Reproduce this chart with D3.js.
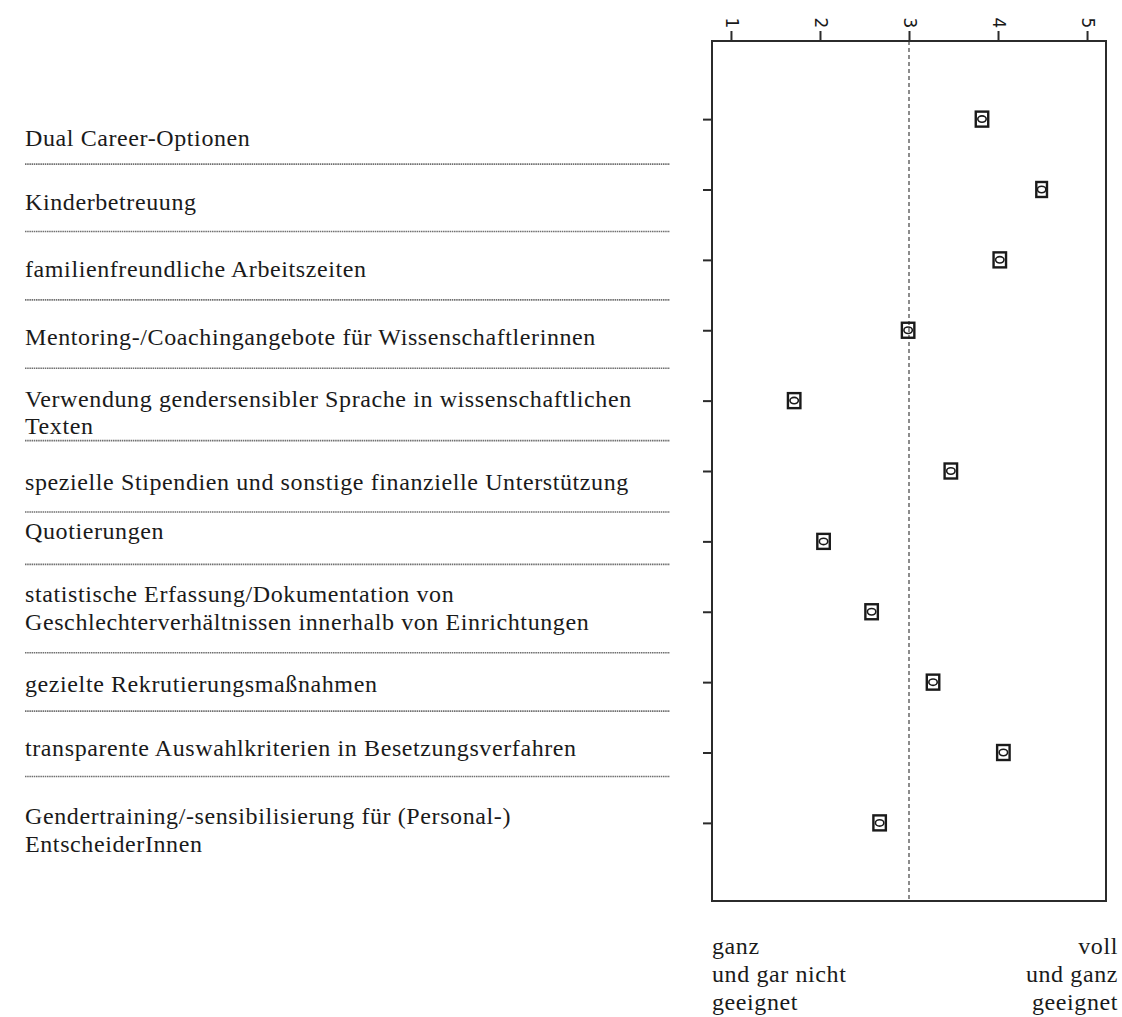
<!DOCTYPE html>
<html>
<head>
<meta charset="utf-8">
<script src="https://cdn.jsdelivr.net/npm/d3@7"></script>
<style>
  body { margin: 0; background: #fff; }
  svg text { font-family: "Liberation Serif", "DejaVu Serif", serif; fill: #1a1a1a; }
</style>
</head>
<body>
<svg id="chart" width="1122" height="1017"></svg>
<script>
// items, top to bottom
var categories = [
  ['Dual Career-Optionen'],
  ['Kinderbetreuung'],
  ['familienfreundliche Arbeitszeiten'],
  ['Mentoring-/Coachingangebote für Wissenschaftlerinnen'],
  ['Verwendung gendersensibler Sprache in wissenschaftlichen', 'Texten'],
  ['spezielle Stipendien und sonstige finanzielle Unterstützung'],
  ['Quotierungen'],
  ['statistische Erfassung/Dokumentation von', 'Geschlechterverhältnissen innerhalb von Einrichtungen'],
  ['gezielte Rekrutierungsmaßnahmen'],
  ['transparente Auswahlkriterien in Besetzungsverfahren'],
  ['Gendertraining/-sensibilisierung für (Personal-)', 'EntscheiderInnen']
];
// mean rating (1-5) and half width of the interval
var means = [3.82, 4.49, 4.02, 2.99, 1.71, 3.47, 2.04, 2.58, 3.27, 4.06, 2.67];
var ciHalf = [0.07, 0.06, 0.07, 0.07, 0.07, 0.07, 0.07, 0.07, 0.07, 0.07, 0.07];
var xTicks = [1, 2, 3, 4, 5];
var refValue = 3;
var leftEnd = ['ganz', 'und gar nicht', 'geeignet'];
var rightEnd = ['voll', 'und ganz', 'geeignet'];

// layout tweaks for the label table on the left (pixels relative to row)
var labelNudge = [27, 21, 17, 15, 20, 19, -2, 4, 10, 3, 15];
var sepOffset = [45, 42, 40, 38, 40, 41, 23, 41, 29, 24];

var svg = d3.select('#chart');
var box = {left: 712, right: 1106, top: 41, bottom: 901};
var fontSize = 24;
var tracking = 0.6;

var x = d3.scaleLinear().domain([0.787, 5.213]).range([box.left, box.right]);
var y = d3.scalePoint().domain(d3.range(categories.length))
  .range([box.top, box.bottom]).padding(1.11);

// reference line at 3
svg.append('line')
  .attr('x1', x(refValue)).attr('x2', x(refValue))
  .attr('y1', box.top).attr('y2', box.bottom)
  .attr('stroke', '#8c8c8c').attr('stroke-width', 2)
  .attr('stroke-dasharray', '4,3');

// frame
svg.append('rect')
  .attr('x', box.left).attr('y', box.top)
  .attr('width', box.right - box.left).attr('height', box.bottom - box.top)
  .attr('fill', 'none').attr('stroke', '#2b2b2b').attr('stroke-width', 2);

// top axis, labels turned on their side
var xAxis = svg.append('g')
  .attr('transform', 'translate(0,' + box.top + ')')
  .call(d3.axisTop(x).tickValues(xTicks).tickSize(10).tickSizeOuter(0).tickFormat(d3.format('d')));
xAxis.select('.domain').remove();
xAxis.selectAll('.tick line').attr('stroke', '#2b2b2b').attr('stroke-width', 2);
xAxis.selectAll('.tick text')
  .attr('y', 0).attr('dy', '0.35em')
  .attr('transform', 'translate(0,-18) rotate(90)')
  .attr('text-anchor', 'middle')
  .attr('fill', '#222')
  .style('font-family', '"DejaVu Sans", sans-serif')
  .style('font-size', '17px');

// left ticks of the rows
var yAxis = svg.append('g')
  .attr('transform', 'translate(' + box.left + ',0)')
  .call(d3.axisLeft(y).tickSize(9).tickFormat(''));
yAxis.select('.domain').remove();
yAxis.selectAll('.tick line').attr('stroke', '#2b2b2b').attr('stroke-width', 2);

// markers: bracket box with an ellipse at the mean
var marks = svg.append('g').selectAll('g')
  .data(means).join('g')
  .attr('transform', function(d, i) { return 'translate(0,' + y(i) + ')'; });
marks.append('rect')
  .attr('x', function(d, i) { return x(d - ciHalf[i]); })
  .attr('width', function(d, i) { return x(d + ciHalf[i]) - x(d - ciHalf[i]); })
  .attr('y', -7.5).attr('height', 15)
  .attr('fill', 'none').attr('stroke', '#1a1a1a').attr('stroke-width', 2.4);
marks.append('ellipse')
  .attr('cx', function(d) { return x(d); })
  .attr('rx', 4.2).attr('ry', 3.2)
  .attr('fill', 'none').attr('stroke', '#1a1a1a').attr('stroke-width', 1.6);

// label table
var lineH = 27.5;
var labels = svg.append('g').selectAll('text')
  .data(categories).join('text')
  .attr('x', 25)
  .attr('y', function(d, i) { return y(i) + labelNudge[i] - (d.length - 1) * lineH / 2; })
  .attr('dy', '0.35em')
  .style('font-size', fontSize + 'px')
  .style('letter-spacing', tracking + 'px');
labels.selectAll('tspan')
  .data(function(d) { return d; }).join('tspan')
  .attr('x', 25)
  .attr('dy', function(d, j) { return j ? lineH : 0; })
  .text(function(d) { return d; });

svg.append('g').selectAll('line')
  .data(sepOffset).join('line')
  .attr('x1', 25).attr('x2', 670)
  .attr('y1', function(d, i) { return y(i) + d; })
  .attr('y2', function(d, i) { return y(i) + d; })
  .attr('stroke', '#6f6f6f').attr('stroke-width', 1.7)
  .attr('stroke-dasharray', '1.5,0.7');

// scale end descriptions
function endLabel(lines, xpos, anchor) {
  svg.append('g').selectAll('text')
    .data(lines).join('text')
    .attr('x', xpos)
    .attr('y', function(d, i) { return 954 + i * 28; })
    .attr('text-anchor', anchor)
    .style('font-size', fontSize + 'px')
    .style('letter-spacing', tracking + 'px')
    .text(function(d) { return d; });
}
endLabel(leftEnd, box.left, 'start');
endLabel(rightEnd, 1118, 'end');
</script>
</body>
</html>
